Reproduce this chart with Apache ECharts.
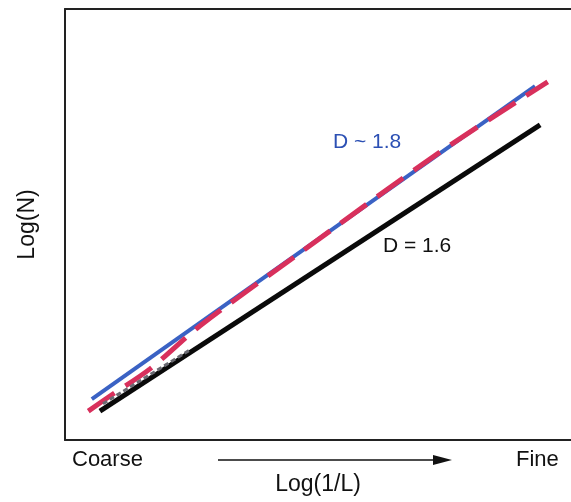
<!DOCTYPE html>
<html><head><meta charset="utf-8">
<script src="https://cdn.jsdelivr.net/npm/echarts@6/dist/echarts.min.js"></script>
<style>html,body{margin:0;padding:0;background:#fff}#c{width:571px;height:502px}</style>
</head><body><div id="c"></div>
<script>
// Data in axis units (x: Log(1/L), y: Log(N), arbitrary 0-100 scale)
var blueX = [5.3, 92.9];
var blueY = [9.5, 82.1];
var redX = [4.6, 8.9, 16.8, 26.7, 46.4, 74.1, 95.4];
var redY = [6.7, 10.2, 16.5, 26.5, 43.4, 66.8, 83.1];
var blackX = [6.9, 93.9];
var blackY = [6.7, 73.1];
var grayX = [7.5, 24.7];
var grayY = [8.4, 20.9];
var labels = ['D ~ 1.8', 'D = 1.6'];
var xEnds = ['Coarse', 'Fine'];

function pairs(xs, ys){ return xs.map(function(x,i){ return [x, ys[i]]; }); }

var chart = echarts.init(document.getElementById('c'));
var F = 'Liberation Sans, Arial, sans-serif';
var axLine = {show: true, lineStyle: {color: '#222', width: 2}};
chart.setOption({
  animation: false,
  grid: {left: 65, top: 9, right: 0, bottom: 62},
  xAxis: [
    {type: 'value', min: 0, max: 100, axisLine: axLine, axisTick: {show: false}, axisLabel: {show: false}, splitLine: {show: false},
      name: 'Log(1/L)', nameLocation: 'middle', nameGap: 33, nameTextStyle: {fontFamily: F, fontSize: 23, color: '#111'}},
    {type: 'value', min: 0, max: 100, position: 'top', axisLine: axLine, axisTick: {show: false}, axisLabel: {show: false}, splitLine: {show: false}}
  ],
  yAxis: {type: 'value', min: 0, max: 100, axisLine: axLine, axisTick: {show: false}, axisLabel: {show: false}, splitLine: {show: false},
    name: 'Log(N)', nameLocation: 'middle', nameGap: 26, nameTextStyle: {fontFamily: F, fontSize: 23, color: '#111'}},
  series: [
    {type: 'line', data: pairs(blueX, blueY), symbol: 'none', lineStyle: {color: '#3a62c4', width: 4}, z: 2},
    {type: 'line', data: pairs(redX, redY), symbol: 'none', smooth: 0.3, lineStyle: {color: '#d8305c', width: 5, type: [32, 13]}, z: 3},
    {type: 'line', data: pairs(blackX, blackY), symbol: 'none', lineStyle: {color: '#0a0a0a', width: 5}, z: 2},
    {type: 'line', data: pairs(grayX, grayY), symbol: 'none', lineStyle: {color: '#6a6a72', width: 3, type: [5, 3]}, z: 4}
  ],
  graphic: [
    {type: 'text', left: 333, top: 132, style: {text: labels[0], fontFamily: F, fontSize: 21, fill: '#2c50b4'}},
    {type: 'text', left: 383, top: 236, style: {text: labels[1], fontFamily: F, fontSize: 21, fill: '#111'}},
    {type: 'text', left: 72, top: 449, style: {text: xEnds[0], fontFamily: F, fontSize: 22, fill: '#111'}},
    {type: 'text', left: 516, top: 449, style: {text: xEnds[1], fontFamily: F, fontSize: 22, fill: '#111'}},
    {type: 'line', shape: {x1: 218, y1: 460, x2: 436, y2: 460}, style: {stroke: '#111', lineWidth: 1.5}},
    {type: 'polygon', shape: {points: [[433, 455], [452, 460], [433, 465]]}, style: {fill: '#111'}}
  ]
});
</script></body></html>
